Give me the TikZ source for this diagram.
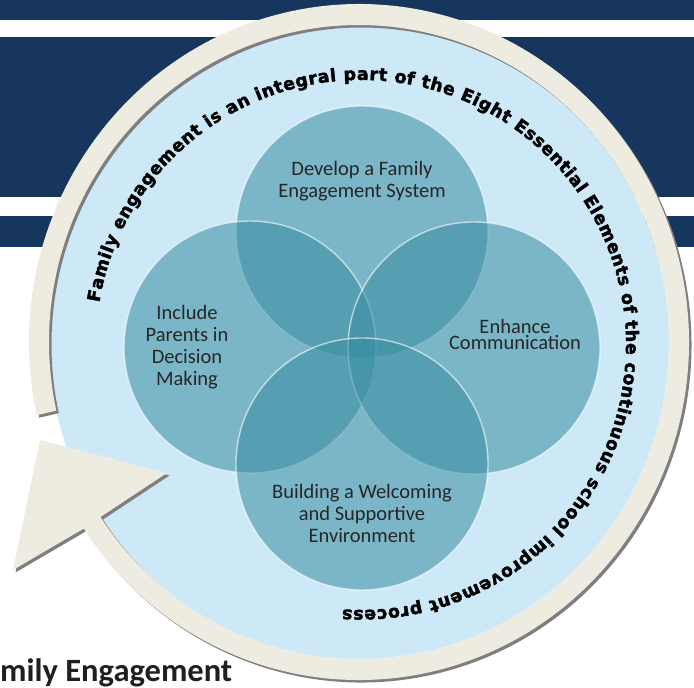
\documentclass[tikz,border=0pt]{standalone}
\usepackage{fontspec}
\setmainfont{Carlito}
\newfontfamily\arcfont{DejaVu Sans}[BoldFeatures={FakeBold=2.2}]
\usetikzlibrary{decorations.text}
\definecolor{navy}{HTML}{17365D}
\definecolor{beige}{HTML}{EEECE1}
\definecolor{skyfill}{HTML}{CDE9F8}
\definecolor{ringshadow}{HTML}{7F7F7F}
\definecolor{petal}{RGB}{57,141,161}
\definecolor{petaltext}{HTML}{262626}
\begin{document}
\begin{tikzpicture}[x=1pt,y=1pt,
  bandstyle/.style={fill=navy},
  petalstyle/.style={circle, minimum size=252pt, inner sep=0pt, fill=petal, fill opacity=0.55, draw=white, draw opacity=0.6, line width=1.4pt},
  petaltxt/.style={text=petaltext, align=center, font=\fontsize{20.5}{22}\selectfont, inner sep=0pt},
]
\useasboundingbox (0,0) rectangle (694,688);
\fill[white] (0,0) rectangle (694,688);
\fill[bandstyle] (0,668) rectangle (694,688);
\fill[bandstyle] (0,491) rectangle (694,651);
\fill[bandstyle] (0,441) rectangle (694,472);

% light blue disk
\fill[skyfill] (359,346) ellipse [x radius=310, y radius=317];

% ring arrow shadow
\fill[ringshadow, shift={(2.5,-2.5)}] (36.8,272.8) arc[start angle=192.5, end angle=-146.5, x radius=330, y radius=338] -- (13,118) -- (40,248) -- (167,215) -- (100.5,171.0) arc[start angle=-146.5, end angle=192.5, x radius=310, y radius=317] -- cycle;
% ring arrow
\fill[beige] (36.8,272.8) arc[start angle=192.5, end angle=-146.5, x radius=330, y radius=338] -- (13,118) -- (40,248) -- (167,215) -- (100.5,171.0) arc[start angle=-146.5, end angle=192.5, x radius=310, y radius=317] -- cycle;

% petals
\node[petalstyle] (top) at (362,456) {};
\node[petalstyle] (left) at (250,341) {};
\node[petalstyle] (right) at (474,340) {};
\node[petalstyle] (bottom) at (362,224) {};

\node[petaltxt] (ttop) at (362,507) {Develop a Family\\Engagement System};
\node[petaltxt] (tleft) at (187,341) {Include\\Parents in\\Decision\\Making};
\node[petaltxt, font=\fontsize{20.5}{16}\selectfont] (tright) at (515,354) {Enhance\\Communication};
\node[petaltxt] (tbottom) at (362,175) {Building a Welcoming\\and Supportive\\Environment};

% curved text
\path[decorate, decoration={text along path, text align=fit to path, text={|\arcfont\bfseries\fontsize{17.5}{18}\selectfont|Family engagement is an integral part of the Eight Essential Elements of the continuous school improvement process}}] (361,343) ++(170.8:265) arc[start angle=170.8, end angle=-94, radius=265];

\node[anchor=base west, inner sep=0pt, font=\bfseries\fontsize{32.5}{32}\selectfont, text=black!88] (title) at (0,6) {mily Engagement};
\end{tikzpicture}
\end{document}
